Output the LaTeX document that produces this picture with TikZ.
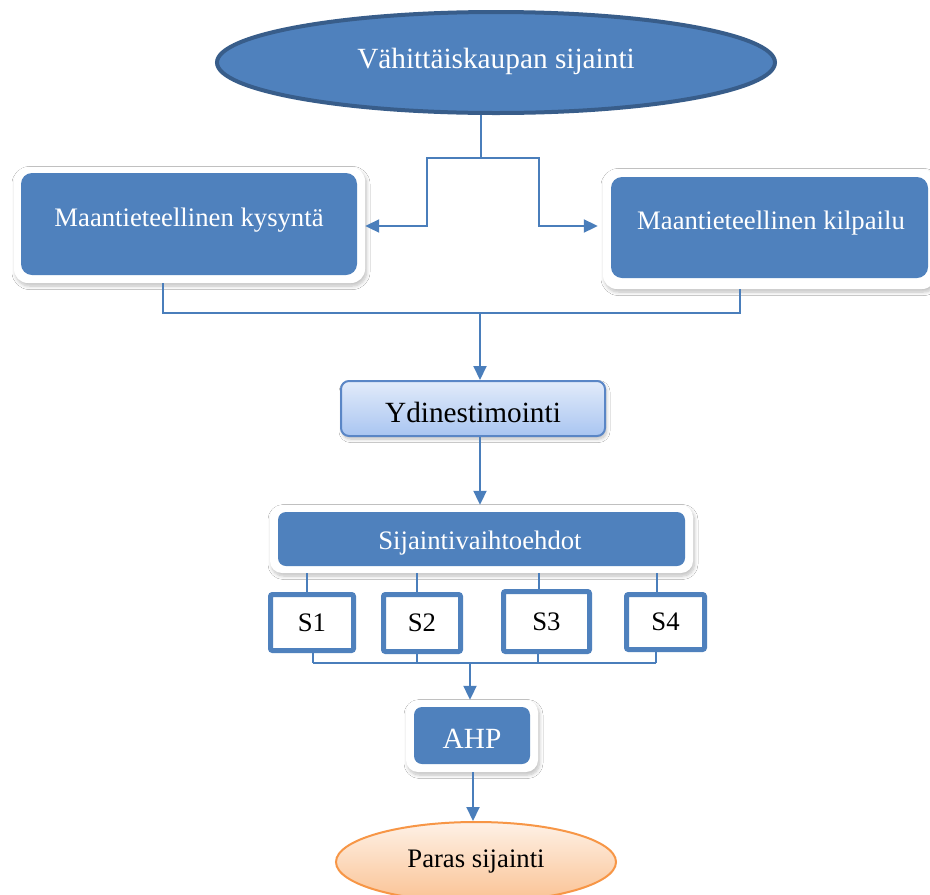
\documentclass[tikz,border=0pt]{standalone}
\usepackage{fontspec}
\setmainfont{Liberation Serif}
\usetikzlibrary{arrows.meta,shapes.geometric,shadows.blur}

\definecolor{accent}{HTML}{4F81BD}
\definecolor{accentdark}{HTML}{385D8A}
\definecolor{wirecol}{HTML}{4A7EBB}
\definecolor{kernelline}{HTML}{5A86C6}
\definecolor{kerneltop}{HTML}{E2EBFA}
\definecolor{kernelbottom}{HTML}{A9C5F1}
\definecolor{bestline}{HTML}{F79646}
\definecolor{besttop}{HTML}{FEF1E6}
\definecolor{bestbottom}{HTML}{FAC293}

\newcommand\lblfont{\fontsize{26.7pt}{32pt}\selectfont}
\newcommand\bigfont{\fontsize{29.3pt}{35pt}\selectfont}

\tikzset{
  wire/.style={draw=wirecol, line width=2pt},
  arrowed/.style={wire, -{Triangle[length=14pt,width=13pt]}},
  softshadow/.style={blur shadow={shadow xshift=1.5pt, shadow yshift=-3pt,
      shadow blur radius=3.5pt, shadow blur steps=8, shadow opacity=25}},
  card/.style={rectangle, rounded corners=14pt, fill=white, inner sep=0pt, softshadow},
  cardface/.style={rectangle, rounded corners=11pt, fill=accent, inner sep=0pt},
  whitelabel/.style={anchor=base, inner sep=0pt, text=white},
  darklabel/.style={anchor=base, inner sep=0pt, text=black},
  optbox/.style={rectangle, draw=accent, line width=5pt, rounded corners=2pt,
      fill=white, inner sep=0pt, font=\lblfont},
}

\begin{document}
\begin{tikzpicture}[x=1pt,y=-1pt]
\useasboundingbox (0,0) rectangle (930,895);
\fill[white] (0,0) rectangle (930,895);
\clip (0,0) rectangle (930,895);

% source ellipse
\node[ellipse, fill=accent, draw=accentdark, line width=4pt, inner sep=0pt,
      minimum width=558pt, minimum height=101pt] (retail) at (496,62.5) {};
\node[whitelabel, font=\bigfont] (retailtext) at (496,68) {Vähittäiskaupan sijainti};

% demand card
\node[card, minimum width=351pt, minimum height=116pt] (demand) at (189.5,225) {};
\node[cardface, minimum width=336pt, minimum height=102pt] (demandface) at (189,224) {};
\node[whitelabel, font=\lblfont] (demandtext) at (189,226) {Maantieteellinen kysyntä};

% competition card
\node[card, minimum width=333pt, minimum height=120pt] (rival) at (769.5,229) {};
\node[cardface, minimum width=317pt, minimum height=101pt] (rivalface) at (769.5,227.5) {};
\node[whitelabel, font=\lblfont] (rivaltext) at (771,229) {Maantieteellinen kilpailu};

% split from the source to both cards
\coordinate (split) at (481,158);
\coordinate (lbend) at (427,226);
\coordinate (rbend) at (539,226);
\draw[wire] (retail.south -| split) -- (split);
\draw[arrowed] (split) -| (lbend) -- (demand.east |- lbend);
\draw[arrowed, shorten >=5pt] (split) -| (rbend) -- (rival.west |- rbend);

% merge of both cards
\coordinate (mleft) at (163,313);
\coordinate (mright) at (740,313);
\coordinate (merge) at (480,313);
\draw[wire] (mleft |- demand.south) -- (mleft) -- (mright) -- (mright |- rival.south);

% kernel estimation
\node[rectangle, rounded corners=8pt, draw=kernelline, line width=2pt,
      top color=kerneltop, bottom color=kernelbottom, softshadow,
      minimum width=264pt, minimum height=55pt] (kernel) at (473,408.5) {};
\node[darklabel, font=\bigfont] (kerneltext) at (473,422) {Ydinestimointi};
\draw[arrowed] (merge) -- (merge |- kernel.north);

% location alternatives
\node[card, rounded corners=12pt, minimum width=423pt, minimum height=68pt] (alts) at (481.5,539) {};
\node[cardface, rounded corners=8pt, minimum width=407pt, minimum height=54pt] (altsface) at (481.5,539) {};
\node[whitelabel, font=\lblfont] (altstext) at (480,549) {Sijaintivaihtoehdot};
\draw[arrowed] (kernel.south -| merge) -- (alts.north -| merge);

% candidate sites
\node[optbox, minimum width=83pt, minimum height=56pt] (s1) at (312,622.5) {S1};
\node[optbox, minimum width=77pt, minimum height=57pt] (s2) at (422,623) {S2};
\node[optbox, minimum width=86pt, minimum height=60pt] (s3) at (546.5,621.5) {S3};
\node[optbox, minimum width=78pt, minimum height=55pt] (s4) at (665.5,622) {S4};

\coordinate (t1) at (307,0);
\coordinate (t2) at (417,0);
\coordinate (t3) at (539,0);
\coordinate (t4) at (657,0);
\foreach \t/\s in {t1/s1, t2/s2, t3/s3, t4/s4}
  \draw[wire] (\t |- alts.south) -- (\t |- \s.north);

\coordinate (bus) at (470,663);
\coordinate (b1) at (313,0);
\coordinate (b2) at (417,0);
\coordinate (b3) at (538,0);
\coordinate (b4) at (656,0);
\foreach \b/\s in {b1/s1, b2/s2, b3/s3, b4/s4}
  \draw[wire] (\b |- \s.south) -- (\b |- bus);
\draw[wire] (b1 |- bus) -- (b4 |- bus);

% AHP
\node[card, rounded corners=12pt, minimum width=132pt, minimum height=72pt] (ahp) at (472,736) {};
\node[cardface, rounded corners=8pt, minimum width=116pt, minimum height=57pt] (ahpface) at (472,735.5) {};
\node[whitelabel, font=\bigfont] (ahptext) at (472,748) {AHP};
\draw[arrowed] (bus) -- (bus |- ahp.north);

% best location
\node[ellipse, draw=bestline, line width=2pt, top color=besttop, bottom color=bestbottom,
      inner sep=0pt, minimum width=280pt, minimum height=80pt] (best) at (476,862) {};
\node[darklabel, font=\lblfont] (besttext) at (476,867) {Paras sijainti};
\coordinate (drop) at (473,0);
\draw[arrowed] (drop |- ahp.south) -- (drop |- best.north);
\end{tikzpicture}
\end{document}
